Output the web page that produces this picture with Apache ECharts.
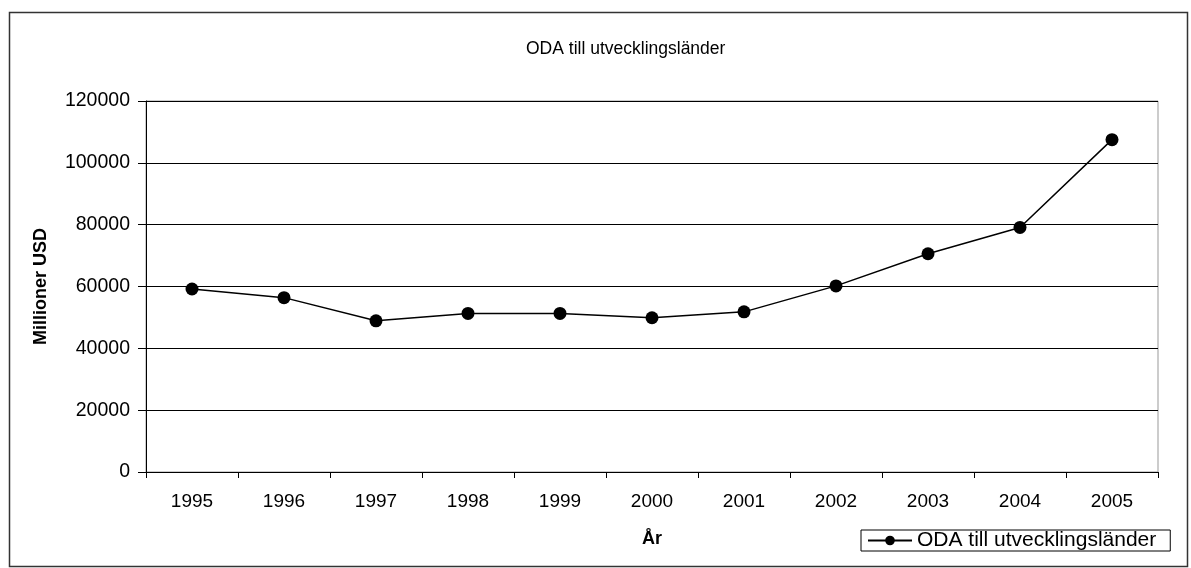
<!DOCTYPE html>
<html>
<head>
<meta charset="utf-8">
<script src="https://cdn.jsdelivr.net/npm/echarts@6/dist/echarts.min.js"></script>
<style>
  html, body { margin: 0; padding: 0; background: #fff; }
  #chart { width: 1191px; height: 568px; }
</style>
</head>
<body>
<div id="chart"></div>
<script>
const years = ['1995', '1996', '1997', '1998', '1999', '2000', '2001', '2002', '2003', '2004', '2005']
const odaValues = [59200, 56400, 48900, 51300, 51300, 49900, 51800, 60200, 70600, 79100, 107500]
const seriesName = 'ODA till utvecklingsländer'
const titleText = 'ODA till utvecklingsländer'
const yName = 'Millioner USD'
const xName = 'År'

const FONT = '"Liberation Sans", Arial, sans-serif'

const chart = echarts.init(document.getElementById('chart'), null, { renderer: 'canvas' })

chart.setOption({
  backgroundColor: '#fff',
  animation: false,
  textStyle: { fontFamily: FONT, color: '#000' },
  title: {
    text: titleText,
    left: 521,
    top: 35,
    textStyle: { fontFamily: FONT, fontSize: 17.5, fontWeight: 'normal', color: '#000' },
  },
  graphic: [{
    type: 'rect',
    shape: { x: 9.5, y: 12.5, width: 1178, height: 554 },
    style: { fill: 'none', stroke: '#333', lineWidth: 1.5 },
    silent: true,
  }],
  grid: { left: 146, right: 33, top: 101, bottom: 96, show: true, borderColor: '#999', borderWidth: 1 },
  legend: {
    left: 861,
    top: 530,
    data: [seriesName],
    itemWidth: 44,
    itemHeight: 12,
    padding: [0, 14, 0, 6],
    borderColor: '#000',
    borderWidth: 1,
    borderRadius: 0,
    textStyle: { fontFamily: FONT, fontSize: 21, color: '#000' },
  },
  xAxis: {
    type: 'category',
    data: years,
    boundaryGap: true,
    name: xName,
    nameLocation: 'middle',
    nameGap: 58,
    nameTextStyle: { fontFamily: FONT, fontSize: 18, fontWeight: 'bold', color: '#000' },
    axisLine: { lineStyle: { color: '#000', width: 1 } },
    axisTick: { show: true, alignWithLabel: false, length: 6, lineStyle: { color: '#000' } },
    axisLabel: { fontFamily: FONT, fontSize: 19, color: '#000', margin: 20 },
    splitLine: { show: false },
  },
  yAxis: {
    type: 'value',
    min: 0,
    max: 120000,
    interval: 20000,
    name: yName,
    nameLocation: 'middle',
    nameGap: 96,
    nameTextStyle: { fontFamily: FONT, fontSize: 18, fontWeight: 'bold', color: '#000' },
    axisLine: { show: true, lineStyle: { color: '#000', width: 1 } },
    axisTick: { show: true, length: 8, lineStyle: { color: '#000' } },
    axisLabel: { fontFamily: FONT, fontSize: 19.5, color: '#000', margin: 16, formatter: (v) => String(v) },
    splitLine: { show: true, lineStyle: { color: '#000', width: 1 } },
  },
  series: [{
    name: seriesName,
    type: 'line',
    data: odaValues,
    symbol: 'circle',
    symbolSize: 13,
    lineStyle: { color: '#000', width: 1.5 },
    itemStyle: { color: '#000' },
  }],
})
</script>
</body>
</html>
